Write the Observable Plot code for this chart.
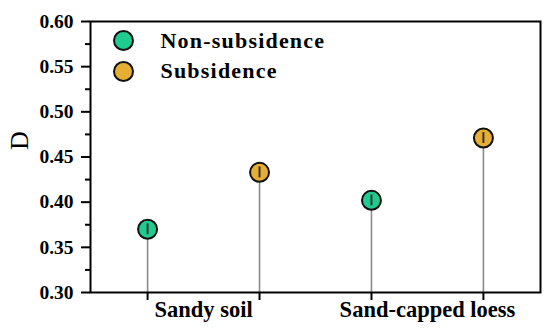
<!DOCTYPE html>
<html>
<head>
<meta charset="utf-8">
<script src="https://cdn.jsdelivr.net/npm/d3@7"></script>
<script src="https://cdn.jsdelivr.net/npm/@observablehq/plot@0.6"></script>
<style>
  html, body { margin: 0; padding: 0; background: #fff; }
  .legend-text text { letter-spacing: 1.2px; }
</style>
</head>
<body>
<div id="chart"></div>
<script>
const categories = ["Sandy soil", "Sand-capped loess"];
const series = ["Non-subsidence", "Subsidence"];
const colors = ["#1fcb8e", "#e6ae33"];
const values = [
  [0.370, 0.433],
  [0.402, 0.471]
];
const errors = [
  [0.006, 0.006],
  [0.006, 0.006]
];
const yTicks = [0.30, 0.35, 0.40, 0.45, 0.50, 0.55, 0.60];
const yMinorTicks = [0.325, 0.375, 0.425, 0.475, 0.525, 0.575];

const rows = [];
categories.forEach((c, ci) => series.forEach((s, si) => {
  rows.push({category: c, series: s, pos: ci * series.length + si, value: values[ci][si], err: errors[ci][si]});
}));
const groupLabels = categories.map((c, ci) => ({category: c, pos: ci * series.length + (series.length - 1) / 2}));
const legend = series.map((s, i) => ({series: s, i}));

const font = "'Liberation Serif', 'Times New Roman', serif";
const none = () => "";

const marks = [
  Plot.ruleX(rows, {x: "pos", y1: 0.30, y2: "value", stroke: "#8a8a8a", strokeWidth: 1.6}),
  Plot.dot(rows, {x: "pos", y: "value", r: 9.5, fill: "series", stroke: "#111", strokeWidth: 2}),
  Plot.ruleX(rows, {x: "pos", y1: d => d.value - d.err, y2: d => d.value + d.err, stroke: "#333", strokeWidth: 2}),
  Plot.axisY({ticks: yTicks, tickFormat: d3.format(".2f"), tickSize: 9, tickPadding: 8, strokeWidth: 2, fontSize: 19.5, fontWeight: "bold", fontFamily: font, fill: "#000", label: null}),
  Plot.axisY({ticks: yMinorTicks, tickFormat: none, tickSize: 5, strokeWidth: 2, label: null}),
  Plot.axisX({ticks: rows.map(d => d.pos), tickFormat: none, tickSize: 8, strokeWidth: 2, label: null}),
  Plot.text(groupLabels, {x: "pos", text: "category", frameAnchor: "bottom", dy: 17, lineAnchor: "middle", fontSize: 22.5, fontWeight: "bold", fontFamily: font, fill: "#000"}),
  Plot.frame({stroke: "#000", strokeWidth: 2}),
  Plot.text(["D"], {text: d => d, frameAnchor: "left", dx: -71, dy: -7, rotate: -90, fontSize: 26, fontFamily: font, fill: "#000"})
];
legend.forEach(l => {
  marks.push(Plot.dot([l], {frameAnchor: "top-left", dx: 33, dy: 19 + 31 * l.i, r: 9.5, fill: colors[l.i], stroke: "#111", strokeWidth: 2}));
  marks.push(Plot.text([l], {text: "series", frameAnchor: "top-left", dx: 70, dy: 19 + 30 * l.i, textAnchor: "start", lineAnchor: "middle", fontSize: 22, fontWeight: "bold", fontFamily: font, fill: "#000", className: "legend-text"}));
});

const chart = Plot.plot({
  width: 550,
  height: 332,
  marginLeft: 90,
  marginRight: 10,
  marginTop: 21,
  marginBottom: 40,
  style: {background: "#fff", overflow: "visible"},
  x: {type: "linear", domain: [-0.51, rows.length - 1 + 0.51], axis: null},
  y: {domain: [0.30, 0.60], axis: null},
  color: {domain: series, range: colors},
  marks
});
// apply letter spacing to legend labels
d3.select(chart).selectAll("text").filter(function() { return series.includes(this.textContent); }).attr("letter-spacing", "1.2px");
document.getElementById("chart").appendChild(chart);
</script>
</body>
</html>
